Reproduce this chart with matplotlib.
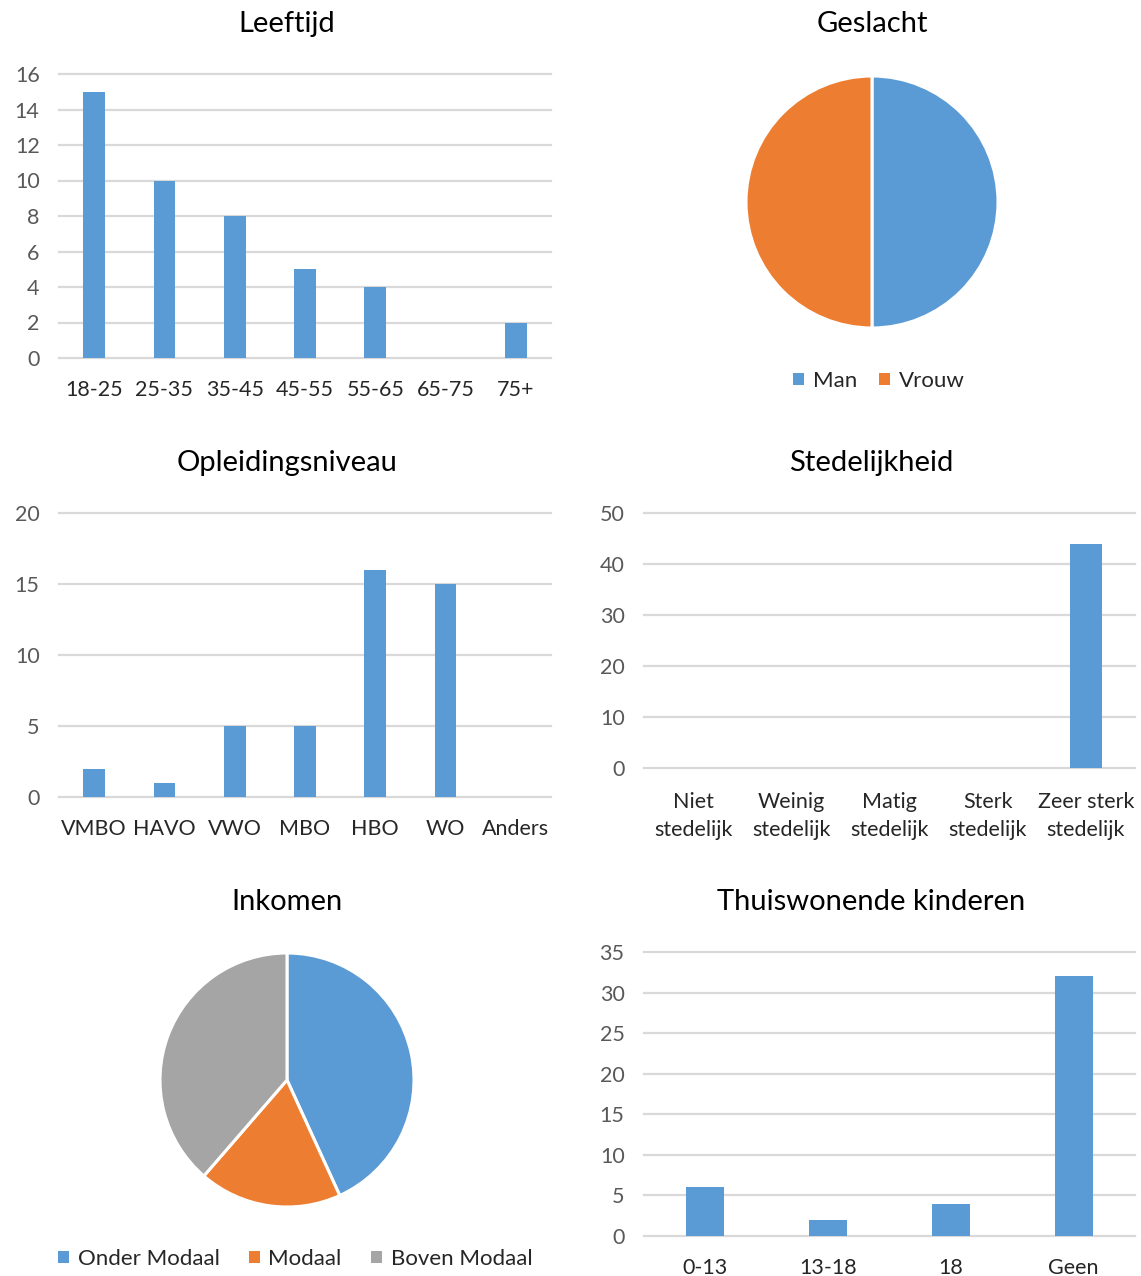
import matplotlib
matplotlib.use("Agg")
import matplotlib.pyplot as plt

plt.rcParams['font.family'] = ['Lato', 'DejaVu Sans']

# survey results (n = 44)
leeftijd_cats = ['18-25', '25-35', '35-45', '45-55', '55-65', '65-75', '75+']
leeftijd_vals = [15, 10, 8, 5, 4, 0, 2]

geslacht_cats = ['Man', 'Vrouw']
geslacht_vals = [22, 22]

opleiding_cats = ['VMBO', 'HAVO', 'VWO', 'MBO', 'HBO', 'WO', 'Anders']
opleiding_vals = [2, 1, 5, 5, 16, 15, 0]

stedelijk_cats = ['Niet\nstedelijk', 'Weinig\nstedelijk', 'Matig\nstedelijk',
                  'Sterk\nstedelijk', 'Zeer sterk\nstedelijk']
stedelijk_vals = [0, 0, 0, 0, 44]

inkomen_cats = ['Onder Modaal', 'Modaal', 'Boven Modaal']
inkomen_vals = [19, 8, 17]

kinderen_cats = ['0-13', '13-18', '18', 'Geen']
kinderen_vals = [6, 2, 4, 32]

BLUE = '#5B9BD5'
ORANGE = '#ED7D31'
GREY = '#A5A5A5'
GRID = '#D9D9D9'

W, H = 1141, 1276
fig = plt.figure(figsize=(W / 100, H / 100), dpi=100)


def px_axes(x0, y0, x1, y1):
    # axes from pixel box (top-left origin)
    return fig.add_axes([x0 / W, 1 - y1 / H, (x1 - x0) / W, (y1 - y0) / H])


def title(x, y, txt):
    fig.text(x / W, 1 - y / H, txt, ha='center', va='center', fontsize=21, color='black')


def bar_chart(box, cats, vals, ymax, step, width=0.31, xpad=16):
    ax = px_axes(*box)
    xs = range(len(cats))
    ax.bar(xs, vals, width=width, color=BLUE, zorder=3)
    ax.set_xlim(-0.5, len(cats) - 0.5)
    ax.set_ylim(0, ymax)
    ax.set_yticks(range(0, ymax + 1, step))
    ax.set_xticks(list(xs))
    ax.set_xticklabels(cats, fontsize=15.5, color='#262626', linespacing=1.5)
    ax.tick_params(axis='y', length=0, pad=14, labelsize=15.5, labelcolor='#595959')
    ax.tick_params(axis='x', length=0, pad=xpad)
    ax.grid(axis='y', color=GRID, linewidth=1.6, zorder=0)
    ax.set_axisbelow(True)
    for s in ax.spines.values():
        s.set_visible(False)
    for line in ax.get_ygridlines():
        line.set_clip_on(False)
    return ax


def pie_chart(cx, cy, r, vals, colors, labels, leg_x, leg_y, colspace=1.0):
    ax = px_axes(cx - r, cy - r, cx + r, cy + r)
    wedges, _ = ax.pie(vals, colors=colors, startangle=90, counterclock=False,
                       wedgeprops=dict(edgecolor='white', linewidth=2.2))
    ax.set_xlim(-1, 1)
    ax.set_ylim(-1, 1)
    ax.set_aspect('auto')
    ax.legend(wedges, labels, loc='center', bbox_to_anchor=(leg_x / W, 1 - leg_y / H),
              bbox_transform=fig.transFigure, ncol=len(labels), frameon=False,
              fontsize=16, handlelength=0.5, handleheight=0.5, handletextpad=0.4,
              columnspacing=colspace, labelcolor='#262626')
    for p in ax.get_legend().get_patches():
        p.set_edgecolor('none')
    return ax


# row 1
title(287, 24, 'Leeftijd')
bar_chart((59, 74, 551, 358), leeftijd_cats, leeftijd_vals, 16, 2)
title(872, 24, 'Geslacht')
pie_chart(872, 202, 126, geslacht_vals, [BLUE, ORANGE], geslacht_cats, 879, 381)

# row 2
title(287, 463, 'Opleidingsniveau')
bar_chart((59, 513, 551, 797), opleiding_cats, opleiding_vals, 20, 5)
title(871, 463, 'Stedelijkheid')
bar_chart((644, 513, 1135, 768), stedelijk_cats, stedelijk_vals, 50, 10, width=0.32,
          xpad=17)

# row 3
title(287, 902, 'Inkomen')
pie_chart(287, 1080, 127, inkomen_vals, [BLUE, ORANGE, GREY], inkomen_cats, 295, 1259,
          colspace=1.3)
title(871, 902, 'Thuiswonende kinderen')
bar_chart((644, 952, 1135, 1236), kinderen_cats, kinderen_vals, 35, 5, width=0.31)

fig.savefig('out.png', dpi=100)
